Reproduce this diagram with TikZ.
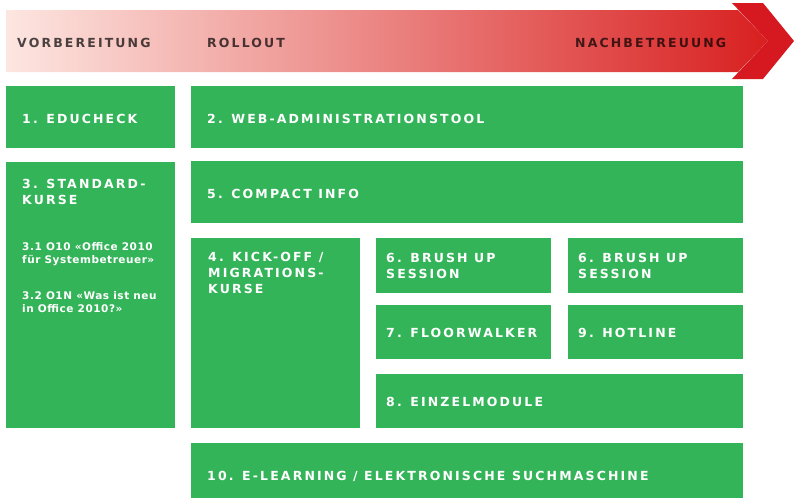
\documentclass[tikz,border=0pt]{standalone}
\usepackage{fontspec}
\newfontfamily\boxfont[LetterSpace=17]{DejaVu Sans}
\newfontfamily\infofont[LetterSpace=5]{DejaVu Sans}
\usetikzlibrary{positioning}
\definecolor{kursgreen}{RGB}{52,180,89}
\definecolor{phaselight}{RGB}{253,230,225}
\definecolor{phasemid}{RGB}{236,138,108}
\definecolor{phasedark}{RGB}{216,32,32}
\definecolor{arrowred}{RGB}{214,24,32}
\tikzset{
	kurs/.style={fill=kursgreen, inner sep=0pt, anchor=north west},
	title/.style={text=white, inner sep=0pt, anchor=base west, align=left,
		font=\boxfont\bfseries\fontsize{12.5}{16}\selectfont},
	phase/.style={text=black, text opacity=0.7, inner sep=0pt, anchor=base west,
		font=\boxfont\bfseries\fontsize{12.5}{16}\selectfont},
	info/.style={text=white, inner sep=0pt, anchor=base west, align=left,
		font=\infofont\bfseries\fontsize{10.5}{13}\selectfont}
}

\begin{document}
\begin{tikzpicture}[x=1pt, y=-1pt]
	%%%%% START %%%%%
	\useasboundingbox (0,0) rectangle (794,499);

	% phase arrow
	\shade[left color=phaselight, middle color=phasemid, right color=phasedark]
		(6,10) -- (738,10) -- (768,41) -- (738,72) -- (6,72) -- cycle;
	\fill[arrowred] (732,3) -- (763,3) -- (794,41) -- (763,79) -- (732,79) -- (768,41) -- cycle;

	\node[phase] (vorbereitung) at (17,47) {VORBEREITUNG};
	\node[phase] (rollout) at (207,47) {ROLLOUT};
	\node[phase] (nachbetreuung) at (575,47) {NACHBETREUUNG};

	% boxes
	\node[kurs, minimum width=169pt, minimum height=62pt] (educheck) at (6,86) {};
	\node[kurs, minimum width=552pt, minimum height=62pt] (webtool) at (191,86) {};
	\node[kurs, minimum width=169pt, minimum height=266pt] (standard) at (6,162) {};
	\node[kurs, minimum width=552pt, minimum height=62pt] (compact) at (191,161) {};
	\node[kurs, minimum width=169pt, minimum height=190pt] (kickoff) at (191,238) {};
	\node[kurs, minimum width=175pt, minimum height=55pt] (brushupa) at (376,238) {};
	\node[kurs, minimum width=175pt, minimum height=55pt] (brushupb) at (568,238) {};
	\node[kurs, minimum width=175pt, minimum height=54pt] (floorwalker) at (376,305) {};
	\node[kurs, minimum width=175pt, minimum height=54pt] (hotline) at (568,305) {};
	\node[kurs, minimum width=367pt, minimum height=54pt] (einzelmodule) at (376,374) {};
	\node[kurs, minimum width=552pt, minimum height=55pt] (elearning) at (191,443) {};

	% labels (base = last line)
	\node[title] (educheck-text) at ([shift={(16,37)}]educheck.north west) {1. EDUCHECK};
	\node[title] (webtool-text) at ([shift={(16,37)}]webtool.north west) {2. WEB-ADMINISTRATIONSTOOL};
	\node[title] (standard-text) at ([shift={(16,42)}]standard.north west) {3. STANDARD-\\KURSE};
	\node[info] (o10-text) at ([shift={(16,101)}]standard.north west) {3.1 O10 «Office 2010\\für Systembetreuer»};
	\node[info] (o1n-text) at ([shift={(16,150)}]standard.north west) {3.2 O1N «Was ist neu\\in Office 2010?»};
	\node[title] (compact-text) at ([shift={(16,37)}]compact.north west) {5. COMPACT INFO};
	\node[title] (kickoff-text) at ([shift={(17,55)}]kickoff.north west) {4. KICK-OFF /\\MIGRATIONS-\\KURSE};
	\node[title] (brushupa-text) at ([shift={(10,40)}]brushupa.north west) {6. BRUSH UP\\SESSION};
	\node[title] (brushupb-text) at ([shift={(10,40)}]brushupb.north west) {6. BRUSH UP\\SESSION};
	\node[title] (floorwalker-text) at ([shift={(10,32)}]floorwalker.north west) {7. FLOORWALKER};
	\node[title] (hotline-text) at ([shift={(10,32)}]hotline.north west) {9. HOTLINE};
	\node[title] (einzelmodule-text) at ([shift={(10,32)}]einzelmodule.north west) {8. EINZELMODULE};
	\node[title] (elearning-text) at ([shift={(16,37)}]elearning.north west) {10. E-LEARNING / ELEKTRONISCHE SUCHMASCHINE};
	%%%%% END %%%%%
\end{tikzpicture}
\end{document}
